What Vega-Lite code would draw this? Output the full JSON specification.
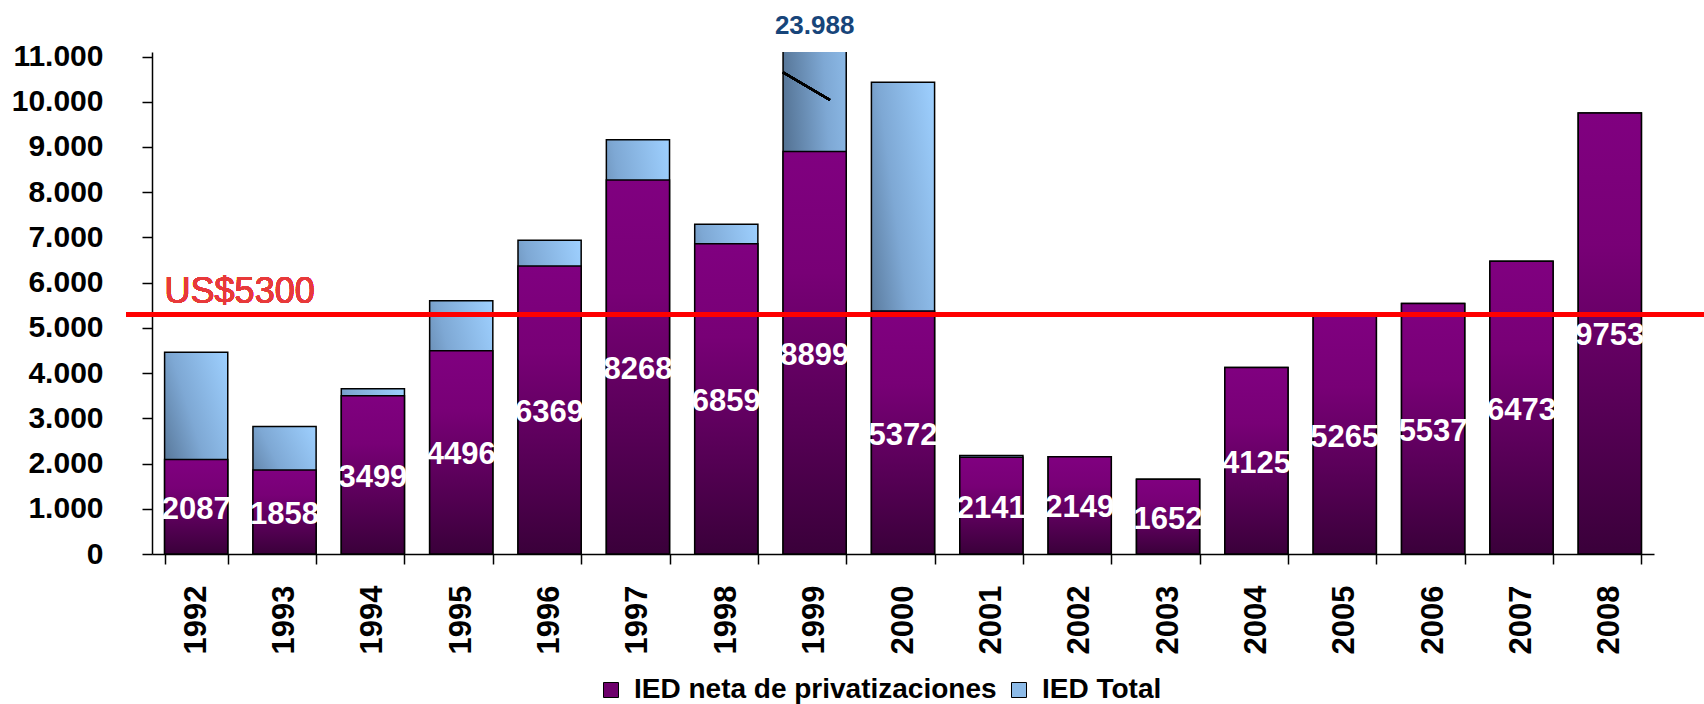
{
  "$schema": "https://vega.github.io/schema/vega-lite/v6.json",
  "width": 1502,
  "height": 502,
  "autosize": {"type": "none"},
  "padding": {"left": 152, "top": 52, "right": 50, "bottom": 150},
  "background": "white",
  "config": {
    "view": {"stroke": null},
    "font": "Liberation Sans",
    "locale": {"number": {"decimal": ",", "thousands": ".", "grouping": [3], "currency": ["$", ""]}},
    "axis": {
      "grid": false,
      "domainColor": "black",
      "tickColor": "black",
      "domainWidth": 1.5,
      "tickWidth": 1.5,
      "tickSize": 10,
      "labelColor": "black",
      "labelFont": "Liberation Sans",
      "labelFontWeight": "bold",
      "title": null
    }
  },
  "data": {
    "values": [
      {"year": "1992", "neta": 2087, "total": 4460},
      {"year": "1993", "neta": 1858, "total": 2820},
      {"year": "1994", "neta": 3499, "total": 3655},
      {"year": "1995", "neta": 4496, "total": 5600},
      {"year": "1996", "neta": 6369, "total": 6940},
      {"year": "1997", "neta": 8268, "total": 9160},
      {"year": "1998", "neta": 6859, "total": 7290},
      {"year": "1999", "neta": 8899, "total": 23988},
      {"year": "2000", "neta": 5372, "total": 10430},
      {"year": "2001", "neta": 2141, "total": 2178},
      {"year": "2002", "neta": 2149, "total": 2149},
      {"year": "2003", "neta": 1652, "total": 1652},
      {"year": "2004", "neta": 4125, "total": 4125},
      {"year": "2005", "neta": 5265, "total": 5265},
      {"year": "2006", "neta": 5537, "total": 5537},
      {"year": "2007", "neta": 6473, "total": 6473},
      {"year": "2008", "neta": 9753, "total": 9753}
    ]
  },
  "layer": [
    {
      "layer": [
        {
          "mark": {
            "type": "bar",
            "clip": true,
            "stroke": "black",
            "strokeWidth": 1.5,
            "fill": {
              "gradient": "linear", "x1": 0, "y1": 1, "x2": 1, "y2": 0,
              "stops": [
                {"offset": 0, "color": "#3d5570"},
                {"offset": 0.55, "color": "#7ea8d4"},
                {"offset": 1, "color": "#9ed0ff"}
              ]
            }
          },
          "encoding": {
            "x": {
              "field": "year",
              "type": "ordinal",
              "scale": {"paddingInner": 0.285, "paddingOuter": 0.1425},
              "axis": {"labelAngle": -90, "labelFontSize": 31, "labelPadding": 21, "tickBand": "extent"}
            },
            "y": {
              "field": "total",
              "type": "quantitative",
              "scale": {"domain": [0, 11100], "nice": false, "zero": true},
              "axis": {
                "values": [0, 1000, 2000, 3000, 4000, 5000, 6000, 7000, 8000, 9000, 10000, 11000],
                "format": ",.0f",
                "labelFontSize": 30,
                "labelPadding": 39
              }
            }
          }
        },
        {
          "mark": {
            "type": "bar",
            "stroke": "black",
            "strokeWidth": 1.5,
            "fill": {
              "gradient": "linear", "x1": 0, "y1": 0, "x2": 0, "y2": 1,
              "stops": [
                {"offset": 0, "color": "#800080"},
                {"offset": 0.3, "color": "#780076"},
                {"offset": 1, "color": "#3a003a"}
              ]
            }
          },
          "encoding": {
            "x": {"field": "year", "type": "ordinal"},
            "y": {"field": "neta", "type": "quantitative", "scale": {"domain": [0, 11100], "nice": false}}
          }
        },
        {
          "mark": {"type": "rule", "color": "black", "strokeWidth": 2},
          "encoding": {
            "x": {"datum": "1999", "type": "ordinal", "bandPosition": 0},
            "x2": {"datum": "1999", "bandPosition": 0.74},
            "y": {"datum": 10649, "type": "quantitative", "scale": {"domain": [0, 11100], "nice": false}},
            "y2": {"datum": 10040}
          }
        },
        {
          "mark": {"type": "rule", "color": "#ff0000", "strokeWidth": 4.5},
          "encoding": {
            "x": {"datum": "1992", "type": "ordinal", "bandPosition": -0.61},
            "x2": {"datum": "2008", "bandPosition": 2.0},
            "y": {"datum": 5300, "type": "quantitative", "scale": {"domain": [0, 11100], "nice": false}}
          }
        },
        {
          "mark": {"type": "text", "text": "US$5300", "color": "#e8393a", "fontSize": 36, "font": "Liberation Sans", "align": "left", "baseline": "alphabetic", "dy": -11},
          "encoding": {
            "x": {"datum": "1992", "type": "ordinal", "bandPosition": 0},
            "y": {"datum": 5300, "type": "quantitative", "scale": {"domain": [0, 11100], "nice": false}}
          }
        },
        {
          "transform": [{"filter": "datum.year == '1999'"}],
          "mark": {"type": "text", "color": "#17457a", "fontSize": 26, "fontWeight": "bold", "font": "Liberation Sans", "baseline": "middle"},
          "encoding": {
            "x": {"field": "year", "type": "ordinal"},
            "text": {"field": "total", "type": "quantitative", "format": ",.0f"},
            "y": {"datum": 11677, "type": "quantitative", "scale": {"domain": [0, 11100], "nice": false}}
          }
        },
        {
          "data": {"values": [{"serie": "IED neta de privatizaciones"}, {"serie": "IED Total"}]},
          "mark": {"type": "square", "opacity": 0},
          "encoding": {
            "color": {
              "field": "serie",
              "type": "nominal",
              "scale": {"domain": ["IED neta de privatizaciones", "IED Total"], "range": ["#6e006c", "#8dbbe8"]},
              "legend": {
                "orient": "none",
                "legendX": 445,
                "legendY": 624,
                "direction": "horizontal",
                "title": null,
                "symbolType": "square",
                "symbolSize": 225,
                "labelFontSize": 28,
                "labelFontWeight": "bold",
                "labelFont": "Liberation Sans",
                "labelColor": "black",
                "labelOffset": 9,
                "columnPadding": 8,
                "padding": 0,
                "labelLimit": 0,
                "encode": {
                  "symbols": {"update": {"stroke": {"value": "black"}, "strokeWidth": {"value": 1}, "opacity": {"value": 1}}}
                }
              }
            }
          }
        }
      ]
    },
    {
      "mark": {"type": "text", "color": "white", "fontSize": 31, "fontWeight": "bold", "font": "Liberation Sans", "baseline": "middle", "dy": 3},
      "encoding": {
        "x": {"field": "year", "type": "ordinal"},
        "text": {"field": "neta", "type": "quantitative", "format": "d"},
        "y": {"field": "neta", "type": "quantitative", "scale": {"domain": [0, 22200], "nice": false}, "axis": null}
      }
    }
  ],
  "resolve": {"scale": {"y": "independent"}}
}
